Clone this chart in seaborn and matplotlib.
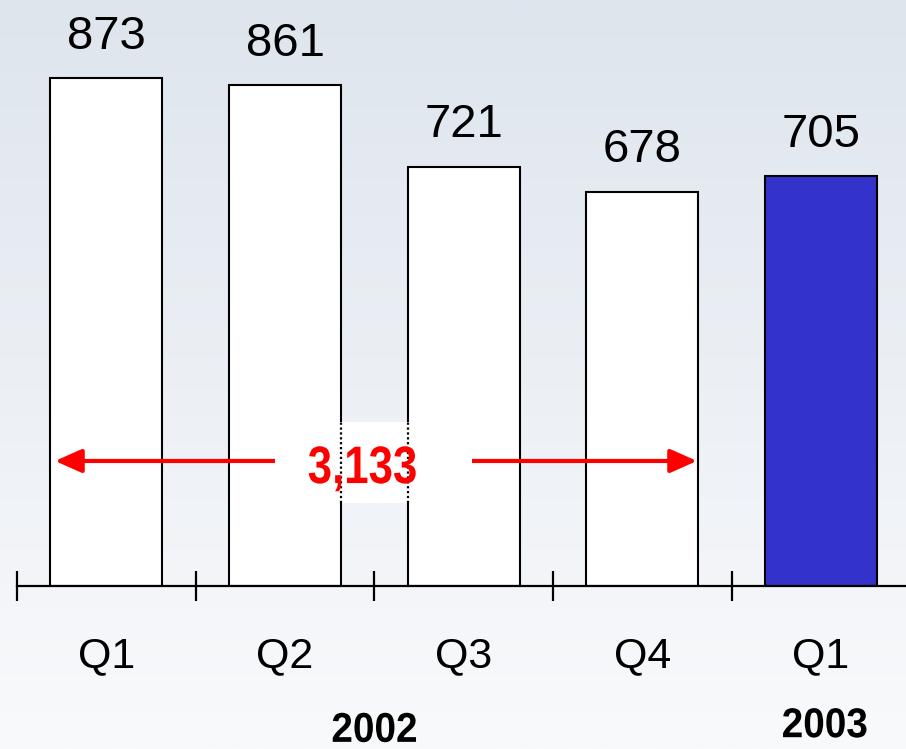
import numpy as np
import pandas as pd
import matplotlib
matplotlib.use("Agg")
import matplotlib.pyplot as plt
from matplotlib.patches import Rectangle
from matplotlib.patheffects import AbstractPathEffect
from matplotlib.transforms import Affine2D
import seaborn as sns

# Quarterly figures
periods = ["Q1 2002", "Q2 2002", "Q3 2002", "Q4 2002", "Q1 2003"]
quarter_labels = ["Q1", "Q2", "Q3", "Q4", "Q1"]
values = [873, 861, 721, 678, 705]
bar_colors = ["#ffffff", "#ffffff", "#ffffff", "#ffffff", "#3333cc"]
year_labels = ["2002", "2003"]
total_2002 = 3133


class Condensed(AbstractPathEffect):
    """Squeeze glyphs horizontally around their own centre (narrow type look)."""

    def __init__(self, sx=0.82):
        super().__init__()
        self.sx = sx

    def draw_path(self, renderer, gc, tpath, affine, rgbFace=None):
        ext = affine.transform_path(tpath).get_extents()
        cx = 0.5 * (ext.x0 + ext.x1)
        squeeze = Affine2D().translate(-cx, 0).scale(self.sx, 1).translate(cx, 0)
        renderer.draw_path(gc, tpath, affine + squeeze, rgbFace)


sns.set_theme(style="white")
plt.rcParams["font.family"] = ["Liberation Sans", "DejaVu Sans"]
plt.rcParams["text.color"] = "black"

df = pd.DataFrame({"period": periods, "value": values})

W, H, DPI = 906, 749, 100
fig = plt.figure(figsize=(W / DPI, H / DPI), dpi=DPI)

# soft vertical gradient background
bg = fig.add_axes([0, 0, 1, 1], zorder=-10)
top = np.array([222, 229, 237]) / 255
bot = np.array([249, 250, 252]) / 255
t = np.linspace(0, 1, 256)[:, None]
grad = top[None, :] * (1 - t) + bot[None, :] * t
bg.imshow(grad[:, None, :], aspect="auto", extent=[0, 1, 0, 1])
bg.set_axis_off()

ax = fig.add_axes([17 / W, (H - 586) / H, 1 - 17 / W, 586 / H])
ax.set_facecolor("none")

sns.barplot(data=df, x="period", y="value", hue="period", palette=bar_colors,
            legend=False, width=0.627, edgecolor="black", linewidth=1.5,
            saturation=1, ax=ax)

ax.set_xlim(-0.5, 4.475)
ax.set_ylim(0, 1007.7)

for c in ax.containers:
    ax.bar_label(c, labels=[f"{int(round(v)):,}" for v in c.datavalues],
                 padding=14, fontsize=34, color="black")

# axis styling: bottom line only, separator ticks between quarters
for s in ["left", "right", "top"]:
    ax.spines[s].set_visible(False)
ax.spines["bottom"].set_linewidth(1.6)
ax.spines["bottom"].set_color("black")
ax.set_yticks([])
ax.set_xticks(range(len(periods)))
ax.set_xticklabels(quarter_labels, fontsize=31)
ax.set_xticks(np.arange(-0.5, len(periods) - 1, 1.0), minor=True)
ax.tick_params(axis="x", which="major", length=0, pad=36, colors="black")
ax.tick_params(axis="x", which="minor", direction="inout", length=21,
               width=1.6, color="black", bottom=True)
ax.set_xlabel("")
ax.set_ylabel("")

# year captions under the quarter labels
ax.text(1.5, -268, year_labels[0], ha="center", va="baseline", fontsize=30,
        fontweight="bold", color="black", path_effects=[Condensed(0.93)])
ax.text(4.02, -260, year_labels[1], ha="center", va="baseline", fontsize=30,
        fontweight="bold", color="black", path_effects=[Condensed(0.93)])

# 2002 total: double arrow spanning Q1..Q4
y_arrow = 215
ax.annotate("", xy=(-0.287, y_arrow), xytext=(3.305, y_arrow),
            arrowprops=dict(arrowstyle="<|-|>,head_length=1.35,head_width=0.6",
                            color="#ff0000", lw=3, shrinkA=0, shrinkB=0))
ax.add_patch(Rectangle((0.944, 143), 2.046 - 0.944, 282 - 143,
                       facecolor="white", edgecolor="none", zorder=5))
# bar edges seen through the label box
bars = ax.patches
for b, side in [(bars[1], "right"), (bars[2], "left")]:
    xe = b.get_x() + (b.get_width() if side == "right" else 0)
    ax.vlines(xe, 143, 282, colors="black", linestyles=(0, (1, 1.2)),
              lw=1.6, zorder=6)
ax.text(1.433, 177, f"{total_2002:,}", ha="center", va="baseline",
        fontsize=38, fontweight="bold", color="#ff0000", zorder=7,
        path_effects=[Condensed(0.83)])

fig.savefig("out.png", dpi=DPI)
